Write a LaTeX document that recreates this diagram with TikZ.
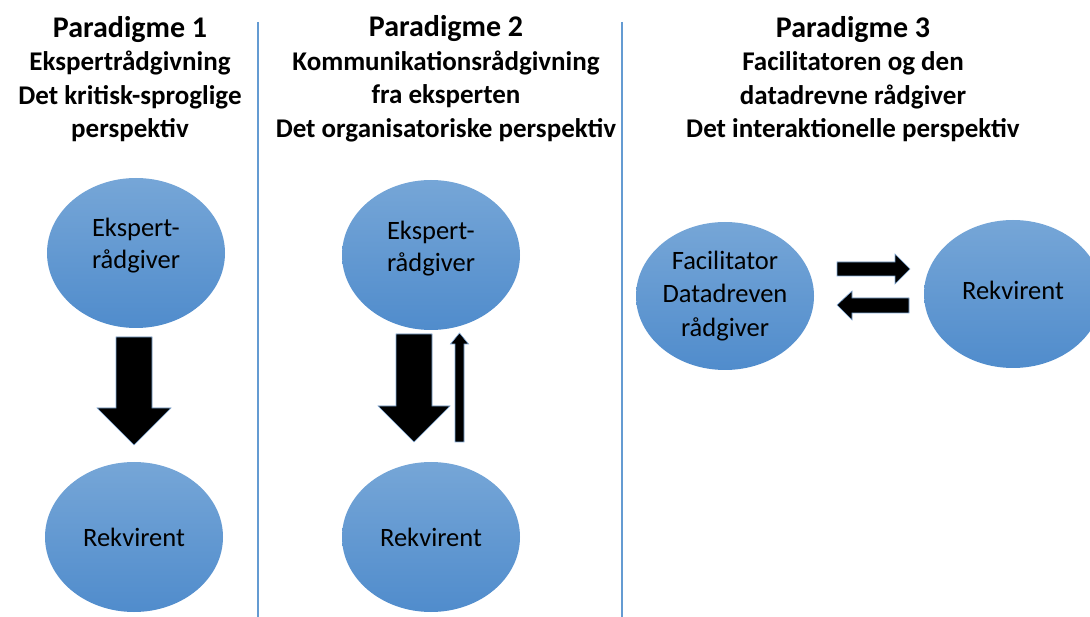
\documentclass[tikz,border=0pt]{standalone}
\usepackage{fontspec}
\setmainfont{Carlito}
\usepackage{tikz}
\usetikzlibrary{shapes.geometric}
\definecolor{ovaltop}{RGB}{118,166,215}
\definecolor{ovalbot}{RGB}{80,140,204}
\definecolor{divline}{RGB}{100,155,210}
\definecolor{arrowedge}{RGB}{130,170,215}

\begin{document}
\begin{tikzpicture}[x=1pt,y=-1pt]
\tikzstyle{oval}=[ellipse, minimum width=178pt, minimum height=150pt, inner sep=0pt, top color=ovaltop, bottom color=ovalbot, font=\fontsize{26.5}{32}\selectfont, align=left]
\tikzstyle{heading}=[align=center, font=\bfseries\fontsize{27}{33.5}\selectfont]
\tikzstyle{blockarrow}=[fill=black, draw=arrowedge, line width=0.6pt, line join=miter]
\tikzstyle{divider}=[draw=divline, line width=1.6pt]

\clip (0,0) rectangle (1090,617);

% headings
\node[heading] (head1) at (130,79) {{\fontsize{30}{35}\selectfont Paradigme 1}\\ Ekspertrådgivning\\ Det kritisk-sproglige\\ perspektiv};
\node[heading] (head2) at (446,79) {{\fontsize{30}{35}\selectfont Paradigme 2}\\ Kommunikationsrådgivning\\ fra eksperten\\ Det organisatoriske perspektiv};
\node[heading] (head3) at (853,79) {{\fontsize{30}{35}\selectfont Paradigme 3}\\ Facilitatoren og den\\ datadrevne rådgiver\\ Det interaktionelle perspektiv};

% dividers
\coordinate (div1top) at (258,22);
\coordinate (div1bot) at (258,617);
\coordinate (div2top) at (622,22);
\coordinate (div2bot) at (622,617);
\draw[divider] (div1top) -- (div1bot);
\draw[divider] (div2top) -- (div2bot);

% ovals
\node[oval, text depth=19pt] (eks1) at (136,253) {Ekspert-\\rådgiver};
\node[oval] (rek1) at (134,537) {Rekvirent};
\node[oval, text depth=17pt] (eks2) at (431,255) {Ekspert-\\rådgiver};
\node[oval] (rek2) at (431,537) {Rekvirent};
\node[oval, minimum height=148pt, align=center, font=\fontsize{26.5}{33.5}\selectfont] (fac) at (725,296) {Facilitator\\Datadreven\\rådgiver};
\node[oval, minimum height=148pt, text depth=8pt] (rek3) at (1013,294) {Rekvirent};

% block arrows
\coordinate (tip1) at (134,445);
\coordinate (tip2) at (414,442);
\coordinate (tip3) at (459.5,333);
\coordinate (tip4) at (910,269);
\coordinate (tip5) at (837,305);
\filldraw[blockarrow] (tip1) -- ++(-37,-37) -- ++(19,0) -- ++(0,-71) -- ++(36,0) -- ++(0,71) -- ++(19,0) -- cycle;
\filldraw[blockarrow] (tip2) -- ++(-36,-36) -- ++(18,0) -- ++(0,-72) -- ++(36,0) -- ++(0,72) -- ++(18,0) -- cycle;
\filldraw[blockarrow] (tip3) -- ++(9,11) -- ++(-4.5,0) -- ++(0,98) -- ++(-9,0) -- ++(0,-98) -- ++(-4.5,0) -- cycle;
\filldraw[blockarrow] (tip4) -- ++(-15,-15) -- ++(0,8) -- ++(-58,0) -- ++(0,14) -- ++(58,0) -- ++(0,8) -- cycle;
\filldraw[blockarrow] (tip5) -- ++(15,-14) -- ++(0,7) -- ++(57,0) -- ++(0,15) -- ++(-57,0) -- ++(0,7) -- cycle;
\end{tikzpicture}
\end{document}
